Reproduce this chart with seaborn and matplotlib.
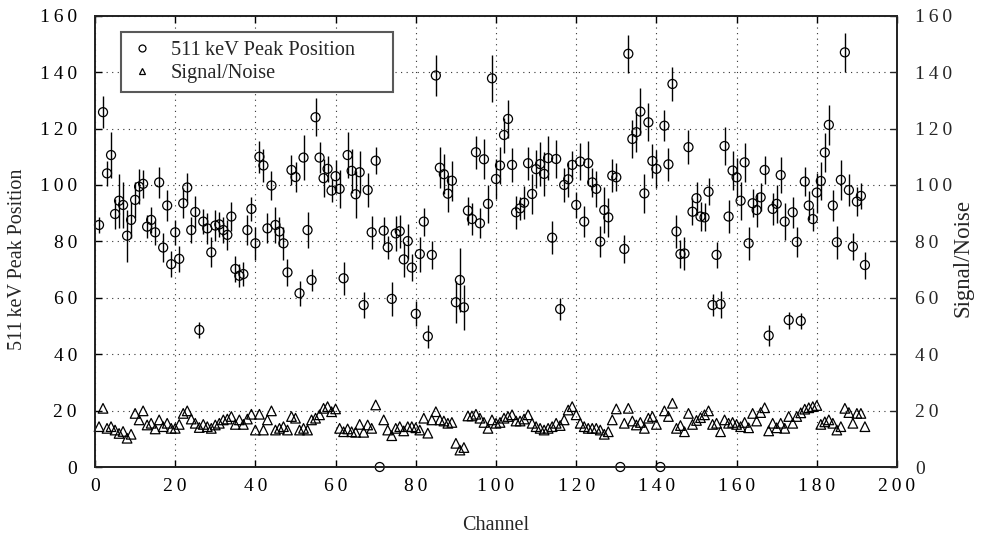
import numpy as np
import pandas as pd
import matplotlib
matplotlib.use("Agg")
import matplotlib.pyplot as plt
import seaborn as sns
from matplotlib.lines import Line2D
from matplotlib.ticker import FuncFormatter

channels = list(range(1, 193))

peak = [85.8, 125.8, 104.1, 110.6, 89.7, 94.4, 92.9, 82.0, 87.6, 94.7,
        99.4, 100.4, 85.2, 87.6, 83.2, 100.9, 77.8, 92.7, 71.9, 83.2,
        73.8, 93.5, 99.1, 84.0, 90.4, 48.6, 87.0, 84.6, 76.1, 85.6,
        86.0, 84.0, 82.3, 88.8, 70.2, 67.8, 68.4, 84.0, 91.5, 79.3,
        110.0, 106.9, 84.6, 99.8, 85.8, 83.5, 79.3, 69.0, 105.3, 102.8,
        61.6, 109.7, 84.0, 66.3, 124.0, 109.7, 102.4, 105.7, 98.0, 103.1,
        98.6, 66.9, 110.6, 105.0, 96.7, 104.5, 57.4, 98.2, 83.2, 108.6,
        0.0, 83.8, 77.9, 59.6, 82.8, 83.6, 73.6, 80.1, 70.7, 54.3,
        75.5, 87.0, 46.3, 75.2, 138.8, 106.1, 103.8, 96.9, 101.5, 58.4,
        66.3, 56.6, 90.9, 87.9, 111.6, 86.4, 109.1, 93.3, 137.8, 102.1,
        106.9, 117.7, 123.4, 107.1, 90.3, 91.7, 93.7, 107.7, 96.8, 105.6,
        107.4, 103.9, 109.5, 81.3, 109.2, 56.0, 100.0, 102.0, 107.1, 92.9,
        108.3, 87.0, 107.7, 100.9, 98.6, 79.9, 91.1, 88.5, 103.3, 102.7,
        0.0, 77.3, 146.5, 116.3, 118.7, 126.0, 97.0, 122.2, 108.5, 105.7,
        0.0, 121.0, 107.3, 135.8, 83.5, 75.5, 75.7, 113.4, 90.5, 95.3,
        88.8, 88.5, 97.6, 57.4, 75.2, 57.7, 113.8, 88.8, 105.1, 102.7,
        94.4, 108.0, 79.3, 93.5, 91.1, 95.6, 105.3, 46.6, 91.5, 93.3,
        103.5, 87.0, 52.1, 90.3, 79.8, 51.8, 101.2, 92.7, 87.9, 97.3,
        101.4, 111.5, 121.3, 92.7, 79.7, 101.8, 147.0, 98.2, 78.1, 94.1,
        96.1, 71.6]

peak_err = [3.0, 5.6, 4.4, 8.3, 5.3, 9.5, 8.0, 9.2, 6.5, 6.5,
            6.2, 5.0, 4.0, 4.7, 4.4, 5.6, 5.0, 5.6, 4.7, 4.4,
            4.7, 5.3, 5.0, 4.7, 5.6, 2.7, 4.4, 5.6, 5.3, 5.6,
            4.4, 4.7, 5.3, 5.0, 4.7, 4.1, 4.4, 5.3, 4.4, 5.9,
            5.6, 5.9, 5.3, 5.0, 6.5, 5.0, 5.9, 4.7, 5.3, 5.3,
            4.4, 8.0, 6.5, 3.8, 6.8, 5.6, 6.8, 4.7, 4.1, 5.9,
            6.8, 5.9, 8.3, 7.7, 8.3, 7.4, 4.7, 5.9, 5.9, 4.7,
            0.0, 5.0, 4.1, 5.9, 6.2, 5.9, 6.2, 6.2, 4.7, 4.4,
            6.2, 5.0, 4.1, 5.0, 7.1, 7.2, 7.1, 6.5, 7.1, 7.4,
            11.2, 8.0, 5.0, 5.6, 5.9, 5.3, 7.1, 6.8, 8.3, 7.1,
            6.5, 6.2, 6.8, 5.9, 5.9, 4.1, 5.9, 5.9, 7.1, 6.8,
            7.7, 7.7, 7.7, 5.9, 6.8, 3.8, 5.9, 6.2, 5.0, 4.7,
            6.5, 5.6, 7.7, 5.0, 6.5, 5.6, 8.0, 6.8, 5.9, 5.0,
            0.0, 5.0, 6.8, 6.8, 7.1, 8.3, 6.9, 6.8, 5.9, 6.8,
            0.0, 5.6, 5.9, 5.9, 5.9, 5.0, 5.9, 5.9, 4.7, 5.9,
            5.0, 5.0, 4.7, 4.0, 4.7, 4.8, 6.8, 5.9, 6.8, 6.8,
            6.8, 6.8, 5.9, 5.0, 5.9, 5.0, 5.0, 3.8, 5.6, 6.8,
            6.5, 6.5, 3.0, 5.6, 5.3, 2.8, 5.0, 5.0, 4.1, 7.1,
            6.8, 6.8, 7.1, 5.6, 5.9, 7.1, 6.8, 5.6, 4.7, 5.0,
            4.7, 4.8]

snr = [14.3, 20.8, 13.7, 14.3, 13.1, 11.9, 12.6, 10.2, 11.6, 19.0,
       16.7, 19.9, 14.9, 15.5, 13.5, 16.7, 14.3, 15.5, 13.7, 13.7,
       15.1, 19.0, 19.9, 17.0, 15.5, 14.0, 15.1, 14.3, 13.7, 14.9,
       15.5, 16.7, 17.0, 17.9, 15.1, 16.7, 15.1, 17.0, 18.7, 13.1,
       18.7, 13.1, 16.7, 19.9, 13.1, 13.7, 14.3, 13.1, 17.9, 17.3,
       13.1, 13.7, 13.1, 16.7, 17.3, 18.5, 20.8, 21.4, 19.6, 20.6,
       13.7, 12.5, 13.5, 12.5, 12.3, 15.1, 12.3, 14.9, 13.7, 22.0,
       np.nan, 16.7, 13.1, 11.1, 13.7, 14.3, 12.8, 14.3, 14.3, 13.9,
       13.1, 17.3, 12.0, 16.7, 19.6, 16.7, 16.3, 15.5, 15.8, 8.4,
       6.0, 6.9, 18.1, 18.1, 18.7, 17.3, 15.8, 13.7, 16.7, 15.5,
       15.8, 17.3, 17.9, 18.5, 16.3, 16.3, 17.0, 18.5, 15.5, 14.3,
       13.7, 13.1, 13.7, 14.3, 15.5, 14.7, 16.7, 20.2, 21.4, 18.5,
       15.5, 14.3, 13.7, 13.7, 13.7, 13.1, 11.6, 12.5, 16.7, 20.6,
       np.nan, 15.5, 20.8, 16.3, 14.9, 15.8, 13.7, 17.3, 17.9, 15.1,
       np.nan, 19.9, 17.9, 22.6, 13.7, 14.7, 12.5, 19.0, 15.1, 16.5,
       17.5, 18.5, 19.9, 15.1, 15.5, 12.5, 16.7, 15.5, 15.8, 15.1,
       14.3, 15.8, 13.9, 19.0, 16.3, 19.3, 21.0, 12.8, 15.5, 13.9,
       15.5, 13.7, 17.9, 15.5, 17.9, 19.2, 20.5, 21.0, 21.4, 21.8,
       15.1, 16.0, 16.7, 15.5, 13.1, 14.3, 20.8, 19.3, 15.5, 19.0,
       19.0, 14.3]

x_ticks = list(range(0, 201, 20))
y_ticks = list(range(0, 161, 20))

df = pd.DataFrame({"channel": channels, "peak": peak, "err": peak_err, "snr": snr})

sns.set_theme(style="ticks")
plt.rcParams["font.family"] = ["Liberation Serif", "DejaVu Serif"]

W, H = 986, 535
fig = plt.figure(figsize=(W / 100, H / 100), dpi=100)
x0, x1, y0, y1 = 95, 897, 467, 15.7
aw, ah = x1 - x0, y0 - y1
ax = fig.add_axes([x0 / W, 1 - y0 / H, aw / W, ah / H])

# error bars
m = df["err"] > 0
ax.errorbar(df.loc[m, "channel"], df.loc[m, "peak"], yerr=df.loc[m, "err"],
            fmt="none", ecolor="black", elinewidth=1.0, capsize=0, zorder=2)

sns.scatterplot(data=df, x="channel", y="peak", marker="o", s=42,
                facecolor="none", edgecolor="black", linewidth=0.9,
                ax=ax, zorder=3, clip_on=False, legend=False)
ax.collections[-1].set_facecolor("none")

sns.scatterplot(data=df, x="channel", y="snr", marker="^", s=48,
                facecolor="none", edgecolor="black", linewidth=0.9,
                ax=ax, zorder=3, clip_on=False, legend=False)
ax.collections[-1].set_facecolor("none")


def spaced(v, pos):
    return "\u2009".join(str(int(round(v))))


ax.set_xlim(0, 200)
ax.set_ylim(0, 160)
ax.set_xticks(x_ticks)
ax.set_yticks(y_ticks)
ax.xaxis.set_major_formatter(FuncFormatter(spaced))
ax.yaxis.set_major_formatter(FuncFormatter(spaced))
ax.tick_params(axis="both", which="major", direction="in", length=5, width=1.0,
               labelsize=14, colors="black")
ax.tick_params(axis="x", top=True, pad=8)
ax.tick_params(axis="y", pad=13)
ax.grid(True, which="major", linestyle=(0, (1, 4)), color="0.2", linewidth=0.8)
ax.set_axisbelow(True)
for s in ax.spines.values():
    s.set_linewidth(1.2)
    s.set_color("black")

ax.set_xlabel("Channel", fontsize=14.5, labelpad=15)
ax.set_ylabel("511\u2009keV Peak Position", fontsize=14.5)
ax.yaxis.set_label_coords((27 - x0) / aw, 1 - (259 - y1) / ah)

ax2 = ax.twinx()
ax2.set_ylim(0, 160)
ax2.set_yticks(y_ticks)
ax2.yaxis.set_major_formatter(FuncFormatter(spaced))
ax2.tick_params(axis="y", direction="in", length=5, width=1.0, labelsize=14, pad=13)
ax2.set_ylabel("Signal/Noise", fontsize=16.5)
ax2.yaxis.set_label_coords((953 - x0) / aw, 1 - (258 - y1) / ah)
for s in ax2.spines.values():
    s.set_linewidth(1.2)

handles = [Line2D([], [], marker="o", ls="none", mfc="none", mec="black", ms=5, mew=0.9),
           Line2D([], [], marker="^", ls="none", mfc="none", mec="black", ms=5, mew=0.9)]
leg = ax.legend(handles, ["511\u2009keV Peak Position", "Signal/Noise"],
                loc="upper left",
                bbox_to_anchor=((121 - x0) / aw, 0, 272 / aw, 1 - (32 - y1) / ah),
                mode="expand", borderaxespad=0, frameon=True, fancybox=False,
                framealpha=1, edgecolor="0.35", fontsize=14.7, handlelength=1.2,
                handletextpad=0.8, borderpad=0.45, labelspacing=0.15)
leg.get_frame().set_linewidth(1.5)
leg.set_zorder(10)

fig.savefig("out.png", dpi=100)
